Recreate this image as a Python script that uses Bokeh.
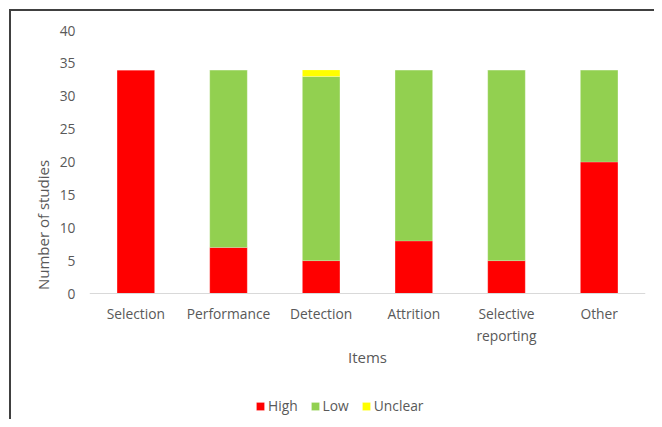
from bokeh.plotting import figure
from bokeh.models import Legend, LegendItem
from bokeh.embed import file_html
from bokeh.resources import INLINE

items = ["Selection", "Performance", "Detection", "Attrition", "Selective\nreporting", "Other"]
high = [34, 7, 5, 8, 5, 20]
low = [0, 27, 28, 26, 29, 14]
unclear = [0, 0, 1, 0, 0, 0]
series = ["High", "Low", "Unclear"]
colors = ["#FF0000", "#92D050", "#FFFF00"]
y_ticks = [0, 5, 10, 15, 20, 25, 30, 35, 40]

FONT = "Open Sans"
TXT = "#595959"
EDGE = "#404040"

W, H = 654, 419
TOP, ZERO_Y = 30, 293          # pixel rows of the value 40 and of the value 0
Y_MAX = 40
px_per_unit = (ZERO_Y - TOP) / Y_MAX
y_min = -(H - ZERO_Y) / px_per_unit   # frame runs to the bottom so the legend can sit under the axis

data = dict(items=items, High=high, Low=low, Unclear=unclear)

p = figure(x_range=items, y_range=(y_min, Y_MAX), width=W, height=H,
           output_backend="svg", toolbar_location=None,
           min_border_left=89, min_border_right=9, min_border_top=TOP, min_border_bottom=0)
p.border_fill_color = None
p.background_fill_color = "white"
p.styles = {
    "background-color": "white",
    "background-image": f"linear-gradient({EDGE}, {EDGE}), linear-gradient({EDGE}, {EDGE})",
    "background-size": "2px 100%, 100% 2px",
    "background-position": "9px 9px, 9px 9px",
    "background-repeat": "no-repeat",
}
p.outline_line_color = None
p.xgrid.grid_line_color = None
p.ygrid.grid_line_color = None

renderers = p.vbar_stack(series, x="items", width=0.405, color=colors, source=data,
                         line_color="white", line_width=0.5, line_alpha=0.4)

p.yaxis.ticker = y_ticks
p.yaxis.axis_line_color = None
p.yaxis.major_tick_line_color = None
p.yaxis.minor_tick_line_color = None
p.yaxis.major_label_standoff = 8
p.yaxis.axis_label = "Number of studies"
p.yaxis.axis_label_standoff = 4

p.xaxis.fixed_location = 0
p.xaxis.axis_line_color = "#D9D9D9"
p.xaxis.axis_line_width = 1
p.xaxis.major_tick_line_color = None
p.xaxis.minor_tick_line_color = None
p.xaxis.major_label_standoff = 4
p.xaxis.axis_label = "Items"
p.xaxis.axis_label_standoff = -1

for ax in (p.xaxis, p.yaxis):
    ax.major_label_text_font = FONT
    ax.major_label_text_font_size = "13.8px"
    ax.major_label_text_color = TXT
    ax.axis_label_text_font = FONT
    ax.axis_label_text_font_size = "15px"
    ax.axis_label_text_font_style = "normal"
    ax.axis_label_text_color = TXT

legend = Legend(items=[LegendItem(label=s, renderers=[r]) for s, r in zip(series, renderers)],
                orientation="horizontal", location=(166, 4))
legend.border_line_color = None
legend.background_fill_alpha = 0
legend.label_text_font = FONT
legend.label_text_font_size = "13.8px"
legend.label_text_color = TXT
legend.glyph_width = 10
legend.glyph_height = 10
legend.label_standoff = 3
legend.spacing = 12
legend.padding = 0
legend.margin = 0
p.add_layout(legend, "center")

open("out.html", "w").write(file_html(p, INLINE))
